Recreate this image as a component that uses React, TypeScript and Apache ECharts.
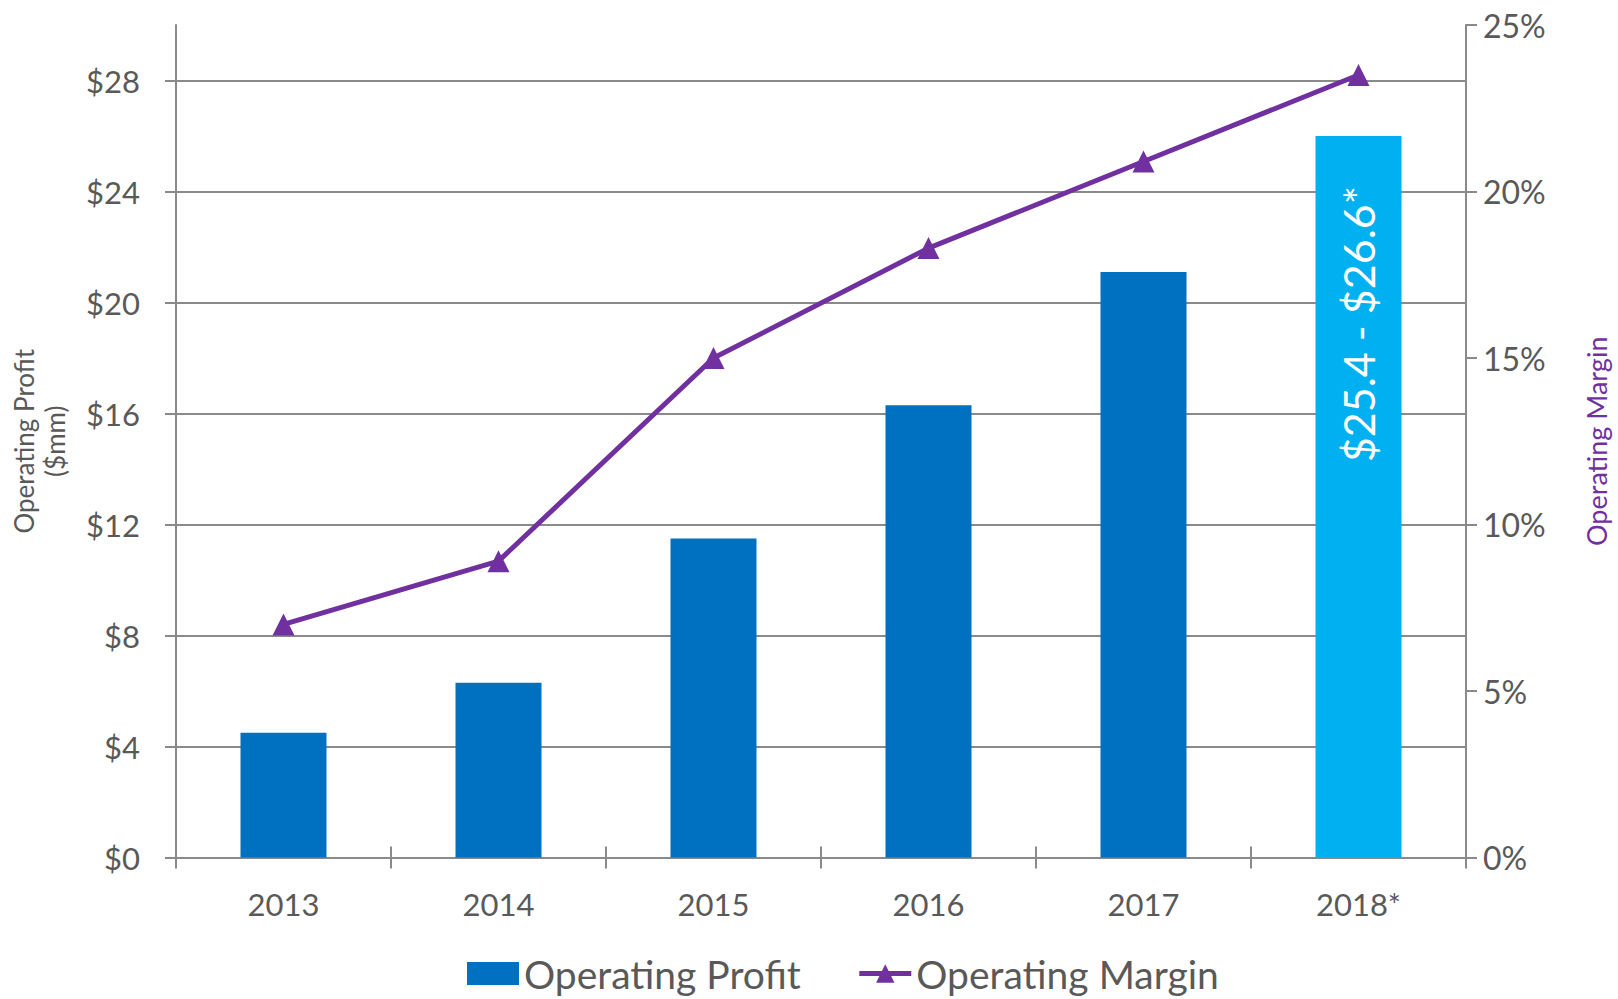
import React, { useEffect, useRef } from "react";
import * as echarts from "echarts";

const categories = ["2013", "2014", "2015", "2016", "2017", "2018*"];
const operatingProfit = [4.5, 6.3, 11.5, 16.3, 21.1, 26.0];
const operatingMargin = [7.0, 8.9, 15.0, 18.3, 20.9, 23.5];
const profitTicks = [0, 4, 8, 12, 16, 20, 24, 28];
const forecastLabel = "$25.4 - $26.6*";
const profitName = "Operating Profit";
const marginName = "Operating Margin";

const FONT = "Lato";
const TEXT = "#595959";
const GRID = "#8a8a8a";
const BLUE = "#0070C0";
const LIGHT = "#00B0F0";
const PURPLE = "#7030A0";

export default function App() {
  const ref = useRef<HTMLDivElement>(null);
  useEffect(() => {
    if (!ref.current) return;
    const chart = echarts.init(ref.current, undefined, { renderer: "svg" });
    const last = operatingProfit.length - 1;
    chart.setOption({
      animation: false,
      textStyle: { fontFamily: FONT, color: TEXT },
      grid: { left: 176, right: 152, top: 25, bottom: 141.5, outerBoundsMode: "none", containLabel: false },
      legend: {
        left: 467,
        bottom: 6,
        padding: 0,
        itemWidth: 52,
        itemHeight: 23,
        itemGap: 56,
        textStyle: { fontFamily: FONT, fontSize: 39, color: TEXT, padding: [0, 0, 0, 0] },
        data: [
          { name: profitName, icon: "rect" },
          { name: marginName, lineStyle: { width: 5 } },
        ],
      },
      xAxis: [
        {
          type: "category",
          data: categories,
          position: "bottom",
          axisLine: { show: true, lineStyle: { color: GRID, width: 2 } },
          axisTick: { show: true, length: 11, lineStyle: { color: GRID, width: 2 } },
          axisLabel: { fontFamily: FONT, fontSize: 31, color: TEXT, margin: 31 },
        },
        {
          type: "category",
          data: categories,
          position: "bottom",
          axisLine: { show: false },
          axisTick: { show: true, inside: true, length: 11, lineStyle: { color: GRID, width: 2 } },
          axisLabel: { show: false },
        },
      ],
      yAxis: [
        {
          type: "value",
          min: 0,
          max: 30,
          interval: 4,
          position: "left",
          name: profitName + "\n($mm)",
          nameLocation: "middle",
          nameRotate: 90,
          nameGap: 106,
          nameTextStyle: { fontFamily: FONT, fontSize: 26, color: TEXT, lineHeight: 31 },
          axisLine: { show: true, lineStyle: { color: GRID, width: 2 } },
          axisTick: { show: true, length: 11, customValues: profitTicks, lineStyle: { color: GRID, width: 2 } },
          axisLabel: {
            fontFamily: FONT,
            fontSize: 31,
            color: TEXT,
            margin: 36,
            customValues: profitTicks,
            formatter: (v: number) => "$" + v,
          },
          splitLine: { show: true, lineStyle: { color: GRID, width: 2 } },
        },
        {
          type: "value",
          min: 0,
          max: 25,
          interval: 5,
          position: "right",
          name: marginName,
          nameLocation: "middle",
          nameRotate: 90,
          nameGap: 117,
          nameTextStyle: { fontFamily: FONT, fontSize: 27, color: PURPLE },
          axisLine: { show: true, lineStyle: { color: GRID, width: 2 } },
          axisTick: { show: true, length: 11, lineStyle: { color: GRID, width: 2 } },
          axisLabel: { fontFamily: FONT, fontSize: 32, color: TEXT, margin: 17, formatter: "{value}%" },
          splitLine: { show: false },
        },
      ],
      series: [
        {
          name: profitName,
          type: "bar",
          xAxisIndex: 0,
          yAxisIndex: 0,
          barWidth: 86,
          itemStyle: { color: BLUE },
          data: operatingProfit.map((v, i) =>
            i === last
              ? {
                  value: v,
                  itemStyle: { color: LIGHT },
                  label: {
                    show: true,
                    formatter: forecastLabel,
                    position: "insideTop",
                    rotate: 90,
                    align: "right",
                    verticalAlign: "middle",
                    distance: 50,
                    color: "#ffffff",
                    fontFamily: FONT,
                    fontSize: 43,
                  },
                }
              : v
          ),
        },
        {
          name: marginName,
          type: "line",
          xAxisIndex: 0,
          yAxisIndex: 1,
          data: operatingMargin,
          symbol: "triangle",
          symbolSize: 22,
          lineStyle: { color: PURPLE, width: 5 },
          itemStyle: { color: PURPLE },
        },
      ],
    });
    return () => chart.dispose();
  }, []);
  return (
    <div
      ref={ref}
      style={{ position: "absolute", left: 0, top: 0, width: 1618, height: 999 }}
    />
  );
}
